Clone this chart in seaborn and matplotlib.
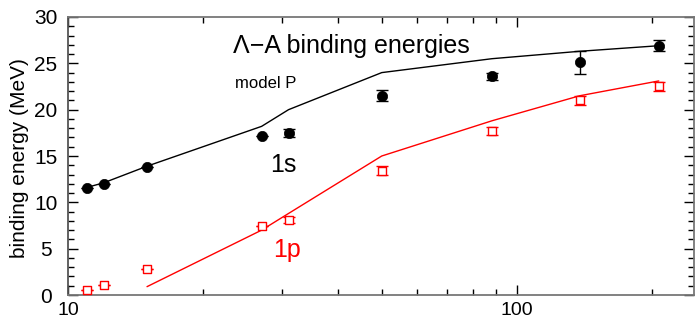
import numpy as np
import pandas as pd
import matplotlib
matplotlib.use("Agg")
import matplotlib.pyplot as plt
import matplotlib.ticker as mticker
import seaborn as sns

# core mass numbers
mass_a = [11, 12, 15, 27, 31, 50, 88, 138, 207]

# measured binding energies (MeV)
exp_1s = [11.6, 12.0, 13.8, 17.2, 17.5, 21.5, 23.6, 25.1, 26.9]
err_1s = [0.0, 0.0, 0.0, 0.0, 0.4, 0.6, 0.4, 1.2, 0.6]
exp_1p = [0.5, 1.1, 2.8, 7.5, 8.1, 13.4, 17.7, 21.0, 22.5]
err_1p = [0.0, 0.0, 0.0, 0.0, 0.3, 0.5, 0.4, 0.5, 0.5]

# model P curves
model_a_1s = [11, 12, 15, 27, 31, 50, 88, 138, 207]
model_1s = [11.6, 12.1, 13.9, 18.2, 20.0, 24.0, 25.5, 26.3, 26.9]
model_a_1p = [15, 27, 31, 50, 88, 138, 207]
model_1p = [0.9, 7.0, 8.8, 15.0, 18.8, 21.5, 23.1]

sns.set_style("ticks")
plt.rcParams["font.family"] = ["Liberation Sans", "DejaVu Sans"]
plt.rcParams["text.color"] = "black"
plt.rcParams["xtick.color"] = "black"
plt.rcParams["ytick.color"] = "black"

fig = plt.figure(figsize=(6.95, 3.25), dpi=100)
ax = fig.add_axes([0.0978, 0.0923, 0.9007, 0.8554])

line_1s = pd.DataFrame({"A": model_a_1s, "E": model_1s})
line_1p = pd.DataFrame({"A": model_a_1p, "E": model_1p})
sns.lineplot(data=line_1s, x="A", y="E", color="black", lw=1.0, sort=False,
             estimator=None, ax=ax)
sns.lineplot(data=line_1p, x="A", y="E", color="red", lw=1.0, sort=False,
             estimator=None, ax=ax)

ax.errorbar(mass_a, exp_1s, yerr=err_1s, fmt="none", ecolor="black",
            elinewidth=1.0, capsize=4, capthick=1.0, zorder=3)
ax.errorbar(mass_a, exp_1p, yerr=err_1p, fmt="none", ecolor="red",
            elinewidth=1.0, capsize=4, capthick=1.0, zorder=3)

pts_1s = pd.DataFrame({"A": mass_a, "E": exp_1s})
pts_1p = pd.DataFrame({"A": mass_a, "E": exp_1p})
sns.scatterplot(data=pts_1s, x="A", y="E", marker="o", s=55, color="black",
                edgecolor="black", linewidth=0.5, zorder=4, ax=ax)
sns.scatterplot(data=pts_1p, x="A", y="E", marker="s", s=40, color="white",
                edgecolor="red", linewidth=1.0, zorder=4, ax=ax)

ax.set_xscale("log")
ax.set_xlim(10, 248)
ax.set_ylim(0, 30)
ax.xaxis.set_major_locator(mticker.FixedLocator([10, 100]))
ax.xaxis.set_major_formatter(mticker.FixedFormatter(["10", "100"]))
ax.xaxis.set_minor_locator(mticker.FixedLocator([20, 30, 40, 50, 60, 70, 80, 90, 200]))
ax.xaxis.set_minor_formatter(mticker.NullFormatter())
ax.yaxis.set_major_locator(mticker.MultipleLocator(5))
ax.yaxis.set_minor_locator(mticker.MultipleLocator(1))

ax.tick_params(which="both", direction="in", top=True, right=True,
               color="black", width=1.0)
ax.tick_params(which="major", length=7)
ax.tick_params(which="minor", length=4)
ax.tick_params(axis="x", which="major", labelsize=14, pad=5, labelcolor="black")
ax.tick_params(axis="y", which="major", labelsize=15, pad=16, labelcolor="black")
for lab in ax.get_yticklabels():
    lab.set_horizontalalignment("center")
for sp in ax.spines.values():
    sp.set_visible(True)
    sp.set_color("#777777")
    sp.set_linewidth(1.3)
ax.spines["left"].set_color("#555555")

ax.set_xlabel("")
ax.set_ylabel("")
fig.text(19.5 / 695, 1 - 158 / 325, "binding energy (MeV)", rotation=90,
         ha="center", va="center", fontsize=15, color="black")

ax.text(0.2637, 0.894, "\u039b\u2212A binding energies", transform=ax.transAxes,
        ha="left", va="center", fontsize=18)
ax.text(0.2668, 0.76, "model P", transform=ax.transAxes,
        ha="left", va="center", fontsize=12)
ax.text(0.323, 0.468, "1s", transform=ax.transAxes, color="black",
        ha="left", va="center", fontsize=18)
ax.text(0.328, 0.162, "1p", transform=ax.transAxes, color="red",
        ha="left", va="center", fontsize=18)

fig.savefig("out.png", dpi=100)
plt.close(fig)
